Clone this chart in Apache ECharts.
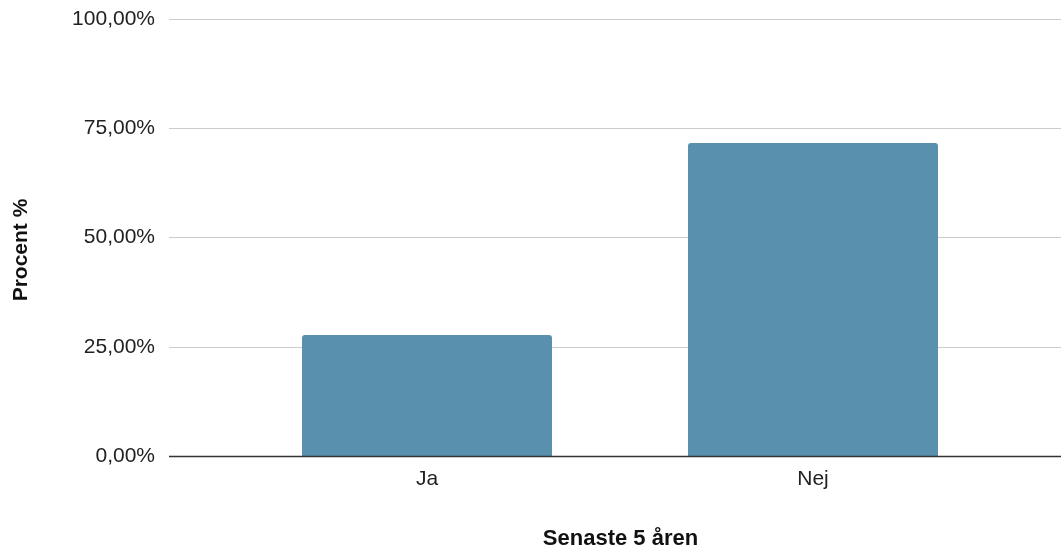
<!DOCTYPE html>
<html>
<head>
<meta charset="utf-8">
<script src="https://cdn.jsdelivr.net/npm/echarts@6/dist/echarts.min.js"></script>
<style>html,body{margin:0;padding:0;background:#fff;}#c{width:1061px;height:552px;}</style>
</head>
<body>
<div id="c"></div>
<script>
const categories = ['Ja', 'Nej'];
const values = [27.7, 71.6];
const yTicks = [0, 25, 50, 75, 100];
const xTitle = 'Senaste 5 åren';
const yTitle = 'Procent %';

const font = '"Liberation Sans", Arial, sans-serif';
const chart = echarts.init(document.getElementById('c'), null, {renderer: 'canvas'});
const fmt = v => v.toFixed(2).replace('.', ',') + '%';
chart.setOption({
  animation: false,
  backgroundColor: '#fff',
  grid: [
    {left: 169, right: 0, top: 19, bottom: 96, containLabel: false},
    {left: 234, right: 55, top: 19, bottom: 96, containLabel: false}
  ],
  xAxis: [
    {gridIndex: 0, type: 'category', data: categories, show: false},
    {gridIndex: 1, type: 'category', data: categories,
     axisLine: {show: false}, axisTick: {show: false},
     axisLabel: {color: '#222', fontSize: 21, fontFamily: font, margin: 13}}
  ],
  yAxis: [
    {gridIndex: 0, type: 'value', min: yTicks[0], max: yTicks[yTicks.length - 1], interval: 25,
     axisLine: {show: false}, axisTick: {show: false},
     axisLabel: {color: '#222', fontSize: 21, fontFamily: font, margin: 14, formatter: fmt},
     splitLine: {lineStyle: {color: '#cccccc', width: 1}}},
    {gridIndex: 1, type: 'value', min: 0, max: 100, interval: 25, show: false,
     splitLine: {show: false}}
  ],
  series: [
    {type: 'bar', xAxisIndex: 1, yAxisIndex: 1, data: values, barWidth: 250,
     itemStyle: {color: '#5990ae', borderRadius: [3, 3, 0, 0]}},
    {type: 'line', xAxisIndex: 0, yAxisIndex: 0, data: [], silent: true}
  ],
  graphic: [
    {type: 'line', shape: {x1: 169, y1: 456.5, x2: 1061, y2: 456.5}, style: {stroke: '#333', lineWidth: 1.3}, z: 10},
    {type: 'text', x: 620.5, y: 539, style: {text: xTitle, font: 'bold 22px ' + font, fill: '#111', textAlign: 'center', textVerticalAlign: 'middle'}},
    {type: 'text', x: 21, y: 250, rotation: Math.PI / 2, style: {text: yTitle, font: 'bold 21px ' + font, fill: '#111', textAlign: 'center', textVerticalAlign: 'middle'}}
  ]
});
</script>
</body>
</html>
